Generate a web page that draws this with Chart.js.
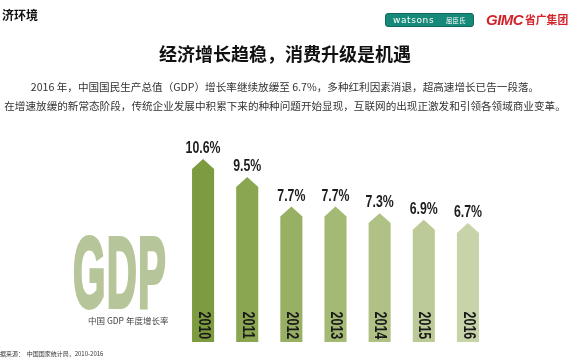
<!DOCTYPE html>
<html><head><meta charset="utf-8">
<script src="https://cdn.jsdelivr.net/npm/chart.js@4.4.1/dist/chart.umd.min.js"></script>
<style>
html,body{margin:0;padding:0;background:#fff;width:570px;height:360px;overflow:hidden;font-family:"Noto Sans CJK SC",sans-serif;}
#wrap{position:relative;width:570px;height:360px;}
.abs{position:absolute;white-space:nowrap;}
#c{position:absolute;left:0;top:0;}
.center{left:0;width:570px;text-align:center;}
</style></head><body>
<div id="wrap">
<canvas id="c" width="570" height="360"></canvas>
<div class="abs" style="left:2px;top:9px;font-size:12px;line-height:12px;font-weight:bold;color:#111;">济环境</div>
<div class="abs" style="left:385px;top:13px;width:87px;height:12px;background:#17897a;border:1px solid #0d6a5d;border-radius:3px;color:#fff;font-size:9px;line-height:12px;">
  <span style="position:absolute;left:7px;top:0;font-family:'DejaVu Sans',sans-serif;font-size:9px;letter-spacing:0.6px;">watsons</span>
  <span style="position:absolute;left:60px;top:0;font-size:6.5px;">屈臣氏</span>
</div>
<div class="abs" style="left:486px;top:12px;color:#d2232a;font-family:'Liberation Sans',sans-serif;font-weight:bold;font-style:italic;font-size:15px;line-height:15px;letter-spacing:-0.5px;">GIMC</div>
<div class="abs" style="left:525px;top:14px;color:#d2232a;font-weight:bold;font-size:10.8px;line-height:11px;">省广集团</div>
<div class="abs center" style="top:44px;font-size:18px;line-height:18px;font-weight:bold;color:#111;">经济增长趋稳，消费升级是机遇</div>
<div class="abs center" style="top:80.5px;font-size:10.6px;line-height:11px;color:#333;">2016 年，中国国民生产总值（GDP）增长率继续放缓至 6.7%，多种红利因素消退，超高速增长已告一段落。</div>
<div class="abs center" style="top:99.5px;font-size:10.6px;line-height:11px;color:#333;">在增速放缓的新常态阶段，传统企业发展中积累下来的种种问题开始显现，互联网的出现正激发和引领各领域商业变革。</div>
<div class="abs" style="left:73px;top:222px;font-family:'Liberation Sans',sans-serif;font-weight:bold;font-size:100.5px;line-height:100.5px;color:#b7c69a;-webkit-text-stroke:4px #b7c69a;letter-spacing:3px;transform:scaleX(0.415);transform-origin:left top;">GDP</div>
<div class="abs" style="left:88px;top:316px;font-size:8.5px;line-height:9px;color:#444;">中国 GDP 年度增长率</div>
<div class="abs" style="left:0px;top:350px;font-size:6px;line-height:7px;color:#333;">据来源：&nbsp;&nbsp;中国国家统计局，2010-2016</div>
</div>
<script>
const years = ['2010','2011','2012','2013','2014','2015','2016'];
const gdpGrowth = [10.6, 9.5, 7.7, 7.7, 7.3, 6.9, 6.7];
const barColors = ['#7d9b3f','#8aa650','#98b063','#a3b974','#afc185','#bbca97','#c7d3a9'];
const Y_MIN = -0.55, Y_MAX = 12;

const arrowBars = {
  id: 'arrowBars',
  afterDatasetsDraw(chart) {
    const ctx = chart.ctx;
    const meta = chart.getDatasetMeta(0);
    meta.data.forEach((bar, i) => {
      const p = bar.getProps(['x','y','base','width'], true);
      const hw = p.width / 2, ah = p.width * 0.45;
      ctx.save();
      ctx.fillStyle = barColors[i];
      ctx.beginPath();
      ctx.moveTo(p.x - hw, p.base);
      ctx.lineTo(p.x - hw, p.y + ah);
      ctx.lineTo(p.x, p.y);
      ctx.lineTo(p.x + hw, p.y + ah);
      ctx.lineTo(p.x + hw, p.base);
      ctx.closePath();
      ctx.fill();
      ctx.restore();

      ctx.save();
      ctx.translate(p.x, p.y - 6);
      ctx.scale(0.77, 1);
      ctx.fillStyle = '#1c1c1c';
      ctx.font = 'bold 16px "Liberation Sans"';
      ctx.textAlign = 'center';
      ctx.textBaseline = 'alphabetic';
      ctx.fillText(gdpGrowth[i].toFixed(1) + '%', 0, 0);
      ctx.restore();

      ctx.save();
      ctx.translate(p.x, p.base - 30.5);
      ctx.rotate(Math.PI / 2);
      ctx.scale(0.78, 1);
      ctx.textAlign = 'left';
      ctx.textBaseline = 'middle';
      ctx.font = 'bold 16px "Liberation Sans"';
      ctx.fillStyle = '#1a1a1a';
      ctx.fillText(years[i], 0, 0);
      ctx.restore();
    });
  }
};

new Chart(document.getElementById('c'), {
  type: 'bar',
  data: {
    labels: years,
    datasets: [{
      data: gdpGrowth,
      base: Y_MIN,
      backgroundColor: 'rgba(0,0,0,0)',
      barPercentage: 0.5,
      categoryPercentage: 1.0
    }]
  },
  options: {
    responsive: false,
    animation: false,
    layout: { padding: { left: 181, right: 80, top: 136, bottom: 18 } },
    plugins: { legend: { display: false }, tooltip: { enabled: false } },
    scales: {
      x: { display: false, grid: { display: false } },
      y: { display: false, min: Y_MIN, max: Y_MAX, grid: { display: false } }
    }
  },
  plugins: [arrowBars]
});
</script>
</body></html>
